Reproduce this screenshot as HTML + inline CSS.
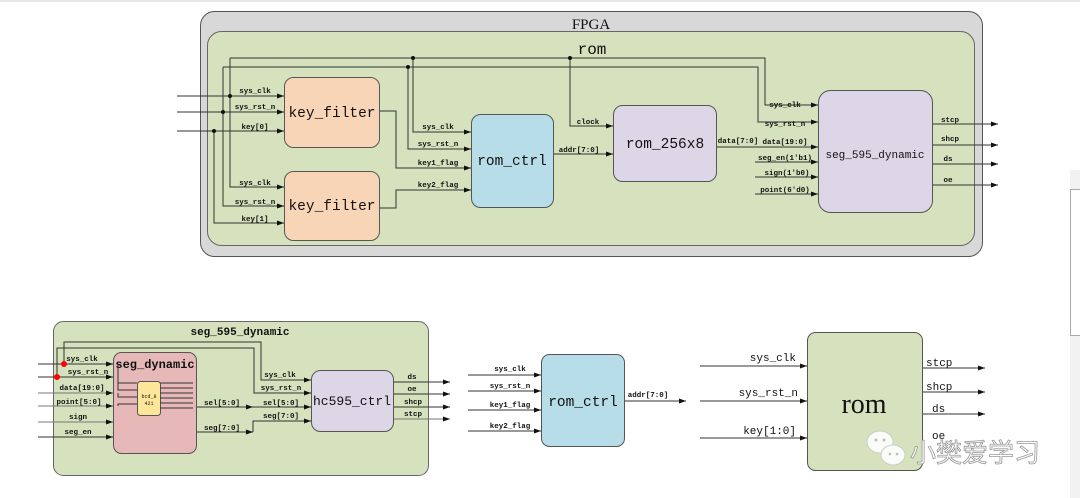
<!DOCTYPE html>
<html><head><meta charset="utf-8"><style>
html,body{margin:0;padding:0;background:#fff;}
svg{display:block;}
text{font-family:"Liberation Mono","Liberation Serif",monospace;fill:#111;}
.s{font-size:7.5px;font-weight:bold;}
.b{font-size:14.5px;font-family:"Liberation Mono",monospace;}
.w{stroke:#333;stroke-width:1;fill:none;}
.g{stroke:#777;stroke-width:1;fill:none;}
</style></head><body>
<svg width="1080" height="498" viewBox="0 0 1080 498" xmlns="http://www.w3.org/2000/svg">
<defs>
<marker id="a" markerWidth="8" markerHeight="6" refX="7" refY="3" orient="auto" markerUnits="userSpaceOnUse"><path d="M0,0.5 L7,3 L0,5.5z" fill="#111"/></marker>
</defs>
<rect x="0" y="0" width="1080" height="2" fill="#e6e6e6"/>
<rect x="1070" y="170" width="10" height="328" fill="#f2f2f2"/>
<rect x="1070.5" y="189.5" width="12" height="146" fill="#fff" stroke="#aaa"/>

<!-- FPGA -->
<rect x="200.5" y="11.5" width="782" height="245" rx="14" fill="#d8d8d8" stroke="#555"/>
<text x="591" y="29" text-anchor="middle" style="font-size:15px;font-family:'Liberation Serif',serif">FPGA</text>
<rect x="207.5" y="31.5" width="767" height="214" rx="14" fill="#d6e2bd" stroke="#666"/>
<text x="592" y="54" text-anchor="middle" style="font-size:16px">rom</text>

<path class="w" d="M230,58 H765 V105 H818" marker-end="url(#a)"/>
<path class="w" d="M223,67 H758 V122 H818" marker-end="url(#a)"/>
<path class="w" d="M177,96 H284" marker-end="url(#a)"/>
<path class="w" d="M177,112 H284" marker-end="url(#a)"/>
<path class="w" d="M177,131 H284" marker-end="url(#a)"/>
<path class="w" d="M230,58 V187 H284" marker-end="url(#a)"/>
<path class="w" d="M223,67 V206 H284" marker-end="url(#a)"/>
<path class="w" d="M214,131 V223 H284" marker-end="url(#a)"/>
<path class="w" d="M413,58 V132 H471" marker-end="url(#a)"/>
<path class="w" d="M408,67 V149 H471" marker-end="url(#a)"/>
<path class="w" d="M379,111 H396 V168 H471" marker-end="url(#a)"/>
<path class="w" d="M379,208 H396 V190 H471" marker-end="url(#a)"/>
<path class="w" d="M570,58 V126 H613" marker-end="url(#a)"/>
<path class="w" d="M553,154 H613" marker-end="url(#a)"/>
<path class="w" d="M716,147 H818" marker-end="url(#a)"/>
<path class="w" d="M755,162 H818" marker-end="url(#a)"/>
<path class="w" d="M755,177 H818" marker-end="url(#a)"/>
<path class="w" d="M755,194 H818" marker-end="url(#a)"/>
<path class="w" d="M932,124 H998" marker-end="url(#a)"/>
<path class="w" d="M932,145 H998" marker-end="url(#a)"/>
<path class="w" d="M932,164 H998" marker-end="url(#a)"/>
<path class="w" d="M932,185 H998" marker-end="url(#a)"/>
<g fill="#111"><circle cx="230" cy="96" r="2"/><circle cx="223" cy="112" r="2"/><circle cx="214" cy="131" r="2"/><circle cx="413" cy="58" r="2"/><circle cx="408" cy="67" r="2"/><circle cx="570" cy="58" r="2"/></g>

<rect x="284.5" y="77.5" width="95" height="70" rx="9" fill="#f9d5b7" stroke="#555"/>
<text class="b" x="332" y="117" text-anchor="middle">key_filter</text>
<rect x="284.5" y="171.5" width="95" height="69" rx="9" fill="#f9d5b7" stroke="#555"/>
<text class="b" x="332" y="210" text-anchor="middle">key_filter</text>
<rect x="471.5" y="114.5" width="82" height="93" rx="9" fill="#b7dde8" stroke="#555"/>
<text class="b" x="512" y="165" text-anchor="middle">rom_ctrl</text>
<rect x="613.5" y="105.5" width="103" height="76" rx="9" fill="#ddd6e6" stroke="#555"/>
<text class="b" x="665" y="148" text-anchor="middle">rom_256x8</text>
<rect x="818.5" y="90.5" width="114" height="122" rx="12" fill="#ddd6e6" stroke="#555"/>
<text x="875" y="158" text-anchor="middle" style="font-size:11px;font-family:'Liberation Mono',monospace">seg_595_dynamic</text>

<g text-anchor="middle">
<text class="s" x="255" y="93">sys_clk</text><text class="s" x="255" y="109">sys_rst_n</text><text class="s" x="255" y="129">key[0]</text>
<text class="s" x="255" y="185">sys_clk</text><text class="s" x="255" y="204">sys_rst_n</text><text class="s" x="255" y="221">key[1]</text>
<text class="s" x="438" y="129">sys_clk</text><text class="s" x="438" y="146">sys_rst_n</text><text class="s" x="438" y="165">key1_flag</text><text class="s" x="438" y="187">key2_flag</text>
<text class="s" x="588" y="124">clock</text><text class="s" x="579" y="152">addr[7:0]</text>
<text class="s" x="738" y="143">data[7:0]</text>
<text class="s" x="785" y="107">sys_clk</text><text class="s" x="785" y="126">sys_rst_n</text><text class="s" x="785" y="144">data[19:0]</text>
<text class="s" x="785" y="160">seg_en(1'b1)</text><text class="s" x="787" y="175">sign(1'b0)</text><text class="s" x="785" y="192">point(6'd0)</text>
<text class="s" x="950" y="122">stcp</text><text class="s" x="950" y="141">shcp</text><text class="s" x="948" y="161">ds</text><text class="s" x="948" y="182">oe</text>
</g>

<rect x="53.5" y="321.5" width="375" height="154" rx="10" fill="#d6e2bd" stroke="#666"/>
<text x="240" y="335" text-anchor="middle" style="font-size:11px;font-weight:bold">seg_595_dynamic</text>
<path class="w" d="M38,364 H113" marker-end="url(#a)"/>
<path class="w" d="M38,377 H113" marker-end="url(#a)"/>
<path class="g" d="M38,393 H113" marker-end="url(#a)"/>
<path class="g" d="M38,406 H113" marker-end="url(#a)"/>
<path class="g" d="M38,422 H113" marker-end="url(#a)"/>
<path class="w" d="M38,437 H113" marker-end="url(#a)"/>
<path class="w" d="M64,364 V342 H261 V380 H311" marker-end="url(#a)"/>
<path class="w" d="M57,377 V348 H254 V393 H311" marker-end="url(#a)"/>
<path class="w" d="M196,407 H253" marker-end="url(#a)"/>
<path class="w" d="M253,407 H311" marker-end="url(#a)"/>
<path class="w" d="M196,432 H253" marker-end="url(#a)"/>
<path class="w" d="M253,432 V421 H311" marker-end="url(#a)"/>
<path class="w" d="M393,382 H450" marker-end="url(#a)"/>
<path class="w" d="M393,394 H450" marker-end="url(#a)"/>
<path class="w" d="M393,407 H450" marker-end="url(#a)"/>
<path class="g" d="M393,419 H450" marker-end="url(#a)"/>
<circle cx="64" cy="364" r="3" fill="#f00"/><circle cx="57" cy="377" r="3" fill="#f00"/>
<rect x="113.5" y="352.5" width="83" height="101" rx="8" fill="#e6b8b8" stroke="#555"/>
<text x="155" y="368" text-anchor="middle" style="font-size:12px;font-weight:bold">seg_dynamic</text>
<path class="w" d="M118,364 V383 H137 M118,377 V390 H137 M118,393 V397 H137 M118,406 V404 H137" stroke-width="0.7"/>
<rect x="137.5" y="381.5" width="23" height="34" rx="3" fill="#fde59a" stroke="#555"/>
<text x="149" y="398" text-anchor="middle" style="font-size:5px">bcd_8</text><text x="149" y="405" text-anchor="middle" style="font-size:5px">421</text>
<g class="w" stroke-width="0.7"><path d="M160,383 H193 M160,388 H193 M160,393 H193 M160,398 H193 M160,403 H193 M160,408 H193"/></g>
<rect x="311.5" y="370.5" width="82" height="61" rx="9" fill="#ddd6e6" stroke="#555"/>
<text x="352" y="405" text-anchor="middle" style="font-size:13px;font-family:'Liberation Mono',monospace">hc595_ctrl</text>
<g text-anchor="middle">
<text class="s" x="82" y="361">sys_clk</text><text class="s" x="88" y="374">sys_rst_n</text><text class="s" x="82" y="390">data[19:0]</text>
<text class="s" x="79" y="404">point[5:0]</text><text class="s" x="78" y="419">sign</text><text class="s" x="78" y="434">seg_en</text>
<text class="s" x="222" y="405">sel[5:0]</text><text class="s" x="222" y="430">seg[7:0]</text>
<text class="s" x="280" y="377">sys_clk</text><text class="s" x="281" y="390">sys_rst_n</text><text class="s" x="281" y="405">sel[5:0]</text><text class="s" x="281" y="418">seg[7:0]</text>
<text class="s" x="412" y="379">ds</text><text class="s" x="412" y="391">oe</text><text class="s" x="413" y="404">shcp</text><text class="s" x="413" y="416">stcp</text>
</g>

<path class="w" d="M468,375 H541" marker-end="url(#a)"/>
<path class="w" d="M468,391 H541" marker-end="url(#a)"/>
<path class="w" d="M468,410 H541" marker-end="url(#a)"/>
<path class="w" d="M468,431 H541" marker-end="url(#a)"/>
<path class="w" d="M624,401 H686" marker-end="url(#a)"/>
<rect x="541.5" y="354.5" width="83" height="92" rx="8" fill="#b7dde8" stroke="#555"/>
<text class="b" x="583" y="406" text-anchor="middle">rom_ctrl</text>
<g text-anchor="middle">
<text class="s" x="510" y="371">sys_clk</text><text class="s" x="510" y="388">sys_rst_n</text><text class="s" x="510" y="407">key1_flag</text><text class="s" x="510" y="428">key2_flag</text>
<text class="s" x="648" y="397">addr[7:0]</text>
</g>

<path class="w" d="M700,366 H807" marker-end="url(#a)"/>
<path class="w" d="M700,401 H807" marker-end="url(#a)"/>
<path class="w" d="M700,438 H807" marker-end="url(#a)"/>
<path class="w" d="M922,368 H985" marker-end="url(#a)"/>
<path class="w" d="M922,392 H985" marker-end="url(#a)"/>
<path class="w" d="M922,414 H985" marker-end="url(#a)"/>
<rect x="807.5" y="332.5" width="115" height="138" rx="8" fill="#d6e2bd" stroke="#555"/>
<text x="864" y="413" text-anchor="middle" style="font-size:28px;font-family:'Liberation Serif',serif">rom</text>
<g style="font-size:11px">
<text x="796" y="361" text-anchor="end">sys_clk</text><text x="798" y="396" text-anchor="end">sys_rst_n</text><text x="796" y="434" text-anchor="end">key[1:0]</text>
<text x="926" y="366">stcp</text><text x="926" y="390">shcp</text><text x="932" y="412">ds</text><text x="932" y="439">oe</text>
</g>
<g opacity="0.9">
<ellipse cx="880" cy="442" rx="13" ry="11" fill="#fff" stroke="#ccc"/>
<ellipse cx="893" cy="455" rx="12" ry="10" fill="#fff" stroke="#ccc"/>
<circle cx="876" cy="440" r="1.5" fill="#bbb"/><circle cx="884" cy="440" r="1.5" fill="#bbb"/>
<circle cx="890" cy="454" r="1.3" fill="#bbb"/><circle cx="897" cy="454" r="1.3" fill="#bbb"/>
</g>
<text x="910" y="462" style="font-size:26px;font-family:'Liberation Sans','Noto Sans CJK SC',sans-serif;fill:#fff;stroke:#999;stroke-width:0.8">小樊爱学习</text>
</svg>
</body></html>
